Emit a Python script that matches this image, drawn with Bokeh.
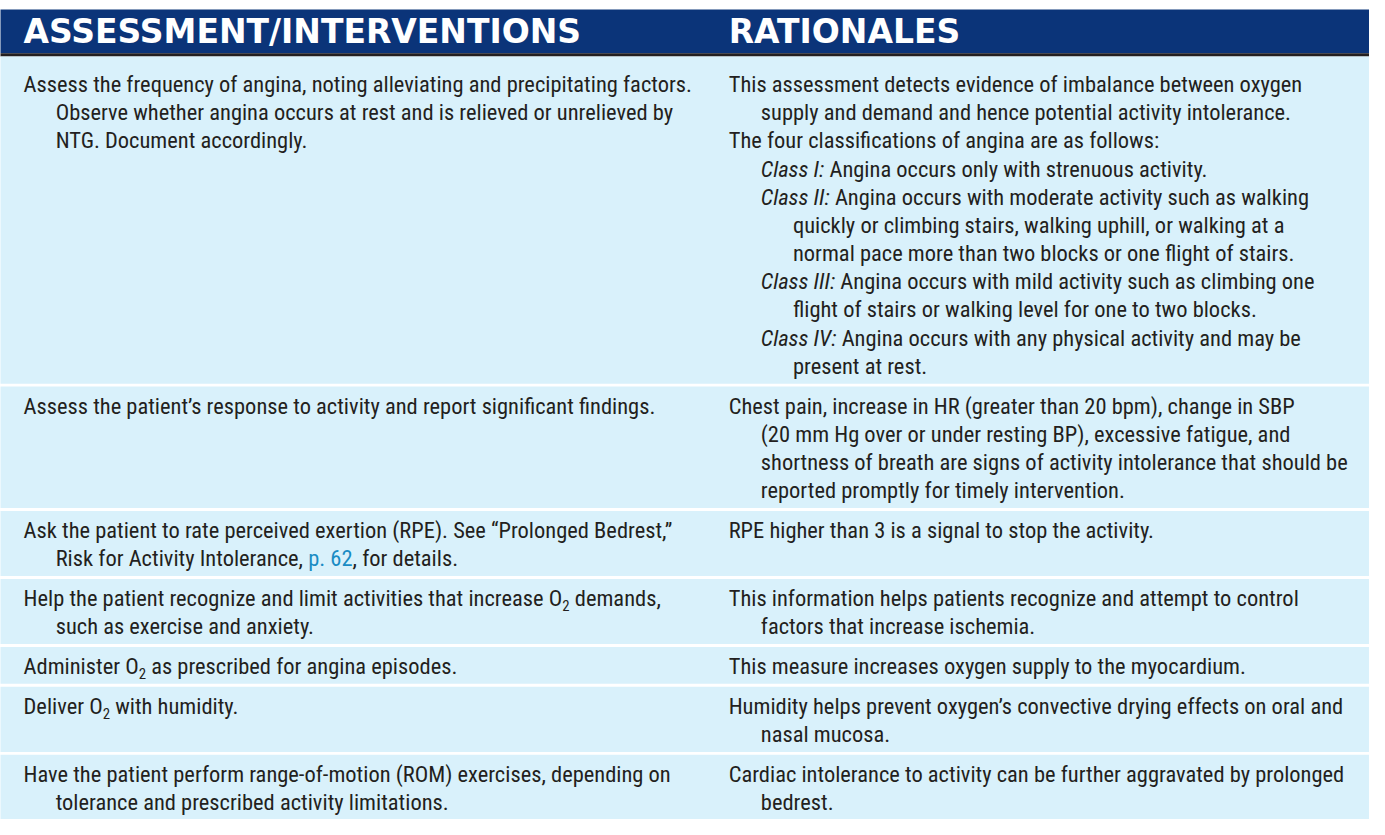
import glob
import re

from bokeh.plotting import figure
from bokeh.models import Range1d, ColumnDataSource
from bokeh.embed import file_html
from bokeh.resources import INLINE
from bokeh.core.properties import value

# ---------------------------------------------------------------- data
# markup: leading ">" = one indent level, *...* = italic, [...] = link, _2 = subscript 2
headers = ["ASSESSMENT/INTERVENTIONS", "RATIONALES"]

assessment_rows = [
    ["Assess the frequency of angina, noting alleviating and precipitating factors.",
     ">Observe whether angina occurs at rest and is relieved or unrelieved by",
     ">NTG. Document accordingly."],
    ["Assess the patient\u2019s response to activity and report significant findings."],
    ["Ask the patient to rate perceived exertion (RPE). See \u201cProlonged Bedrest,\u201d",
     ">Risk for Activity Intolerance, [p. 62], for details."],
    ["Help the patient recognize and limit activities that increase O_2 demands,",
     ">such as exercise and anxiety."],
    ["Administer O_2 as prescribed for angina episodes."],
    ["Deliver O_2 with humidity."],
    ["Have the patient perform range-of-motion (ROM) exercises, depending on",
     ">tolerance and prescribed activity limitations."],
]

rationale_rows = [
    ["This assessment detects evidence of imbalance between oxygen",
     ">supply and demand and hence potential activity intolerance.",
     "The four classifications of angina are as follows:",
     ">*Class I:* Angina occurs only with strenuous activity.",
     ">*Class II:* Angina occurs with moderate activity such as walking",
     ">>quickly or climbing stairs, walking uphill, or walking at a",
     ">>normal pace more than two blocks or one flight of stairs.",
     ">*Class III:* Angina occurs with mild activity such as climbing one",
     ">>flight of stairs or walking level for one to two blocks.",
     ">*Class IV:* Angina occurs with any physical activity and may be",
     ">>present at rest."],
    ["Chest pain, increase in HR (greater than 20 bpm), change in SBP",
     ">(20 mm Hg over or under resting BP), excessive fatigue, and",
     ">shortness of breath are signs of activity intolerance that should be",
     ">reported promptly for timely intervention."],
    ["RPE higher than 3 is a signal to stop the activity."],
    ["This information helps patients recognize and attempt to control",
     ">factors that increase ischemia."],
    ["This measure increases oxygen supply to the myocardium."],
    ["Humidity helps prevent oxygen\u2019s convective drying effects on oral and",
     ">nasal mucosa."],
    ["Cardiac intolerance to activity can be further aggravated by prolonged",
     ">bedrest."],
]

# ---------------------------------------------------------------- style
NAVY = "#0b3479"
RULE = "#231f20"
ROW_BG = "#d9f1fb"
TEXT = "#231f20"
LINK = "#1a8cc4"

W, H = 1385, 835           # reference pixel space
CW, CH = W - 16, H - 16    # canvas size
Y_SPAN = H + 8             # a little extra room so the last line is not clipped
SX, SY = CW / W, CH / Y_SPAN

HEADER_TOP, HEADER_BOTTOM, RULE_BOTTOM = 9.3, 54.3, 57.7
HEADER_BASE = 43.2
COL_X = [23.3, 736.7]
INDENT = 32.5
LINE_H = 29.0
FIRST_PAD = 27.0
ROW_BASE = 38.0
FIRST_EXTRA = 8.7
GAP = 3.0
REF_BODY_WIDTH = 580.3      # measured width of first rationale line
REF_HEAD_WIDTH = 564.0      # measured width of first header
BASELINE_FIX = 0.32         # em: renderer draws 'alphabetic' text this much lower


def find(patterns):
    for name in patterns:
        for root in ("/usr/share/fonts", "/usr/local/share/fonts"):
            r = sorted(glob.glob(root + "/**/" + name, recursive=True))
            if r:
                return r[0]
    return None


try:
    from PIL import ImageFont
except Exception:
    ImageFont = None


class Meter:
    def __init__(self, path, fallback):
        self.f = None
        self.fb = fallback
        if path and ImageFont is not None:
            try:
                self.f = ImageFont.truetype(path, 200)
            except Exception:
                self.f = None

    def width(self, s, size):
        if self.f is not None:
            return self.f.getlength(s) * size / 200.0
        return len(s) * self.fb * size


body_choice = None
for fam, reg, ita in [
        ("Liberation Sans Narrow", ["LiberationSansNarrow-Regular.ttf"], ["LiberationSansNarrow-Italic.ttf"]),
        ("Roboto Condensed", ["RobotoCondensed-Regular.ttf", "RobotoCondensed-Regular*.ttf", "RobotoCondensed[[]wght[]].ttf"],
         ["RobotoCondensed-Italic.ttf", "RobotoCondensed-Italic*.ttf"]),
        ("DejaVu Sans Condensed", ["DejaVuSansCondensed.ttf"], ["DejaVuSansCondensed-Oblique.ttf"]),
        ("Liberation Sans", ["LiberationSans-Regular.ttf"], ["LiberationSans-Italic.ttf"])]:
    rp = find(reg)
    if rp:
        body_choice = (fam, rp, find(ita))
        break
if body_choice is None:
    body_choice = ("Liberation Sans Narrow", None, None)

BODY_FONT = body_choice[0]
m_reg = Meter(body_choice[1], 0.40)
m_ita = Meter(body_choice[2] or body_choice[1], 0.40)

head_path = find(["DejaVuSans-Bold.ttf"])
HEAD_FONT = "DejaVu Sans" if head_path else "Liberation Sans"
m_head = Meter(head_path or find(["LiberationSans-Bold.ttf"]), 0.70)

TOKEN = re.compile(r"(\*[^*]+\*|\[[^\]]+\]|_2)")


def parse(line):
    level = len(line) - len(line.lstrip(">"))
    out = []
    for part in TOKEN.split(line[level:]):
        if not part:
            continue
        if part.startswith("*"):
            out.append((part[1:-1], "italic"))
        elif part.startswith("["):
            out.append((part[1:-1], "link"))
        elif part == "_2":
            out.append(("2", "sub"))
        else:
            out.append((part, "normal"))
    return level, out


def plain(line):
    return "".join(t for t, _ in parse(line)[1])


body_size = REF_BODY_WIDTH * SX / m_reg.width(plain(rationale_rows[0][0]), 1.0)
sub_size = body_size * 0.66
head_size = REF_HEAD_WIDTH * SX / m_head.width(headers[0], 1.0)

# ---------------------------------------------------------------- layout
runs = {k: {"x": [], "y": [], "text": []} for k in ("normal", "italic", "link", "sub")}
quads = {"left": [], "right": [], "top": [], "bottom": [], "color": []}


def add_quad(l, r, t, b, c):
    quads["left"].append(l); quads["right"].append(r)
    quads["top"].append(t); quads["bottom"].append(b); quads["color"].append(c)


add_quad(-5, W + 5, HEADER_TOP, HEADER_BOTTOM, NAVY)
add_quad(-5, W + 5, HEADER_BOTTOM, RULE_BOTTOM, RULE)

y_top = RULE_BOTTOM
n_rows = len(assessment_rows)
for r in range(n_rows):
    left, right = assessment_rows[r], rationale_rows[r]
    n = max(len(left), len(right))
    extra = FIRST_EXTRA if r == 0 else 0.0
    bottom = y_top + extra + ROW_BASE + LINE_H * (n - 1)
    if r == n_rows - 1:
        bottom = Y_SPAN + 5
    add_quad(-5, W + 5, y_top, bottom, ROW_BG)
    for cx, lines in zip(COL_X, (left, right)):
        for i, line in enumerate(lines):
            level, rs = parse(line)
            x = cx + level * INDENT
            yb = y_top + extra + FIRST_PAD + i * LINE_H
            for text, style in rs:
                size = sub_size if style == "sub" else body_size
                meter = m_ita if style == "italic" else m_reg
                stripped = text.lstrip(" ")
                lead = text[:len(text) - len(stripped)]
                x += m_reg.width(lead, size) / SX
                shown = stripped.rstrip(" ")
                if shown:
                    yy = yb + (body_size * 0.22 if style == "sub" else 0.0)
                    runs[style]["x"].append(x)
                    runs[style]["y"].append(yy - BASELINE_FIX * size / SY)
                    runs[style]["text"].append(shown)
                x += meter.width(stripped, size) / SX
    y_top = bottom + GAP

# ---------------------------------------------------------------- figure
p = figure(width=CW, height=CH,
           x_range=Range1d(0, W), y_range=Range1d(Y_SPAN, 0),
           x_axis_location=None, y_axis_location=None,
           output_backend="svg", toolbar_location=None,
           min_border=0, background_fill_color="white", border_fill_color="white")
p.outline_line_color = None
p.grid.visible = False

p.quad(left="left", right="right", top="top", bottom="bottom", color="color",
       line_color=None, source=ColumnDataSource(quads))

p.text(x=COL_X, y=[HEADER_BASE - BASELINE_FIX * head_size / SY] * 2, text=headers, text_color="white",
       text_font=value(HEAD_FONT), text_font_style="bold",
       text_font_size=f"{head_size:.2f}px", text_baseline="alphabetic", text_align="left")

styles = {
    "normal": dict(text_color=TEXT, text_font_style="normal", size=body_size),
    "italic": dict(text_color=TEXT, text_font_style="italic", size=body_size),
    "link": dict(text_color=LINK, text_font_style="normal", size=body_size),
    "sub": dict(text_color=TEXT, text_font_style="normal", size=sub_size),
}
for k, st in styles.items():
    p.text(x="x", y="y", text="text", source=ColumnDataSource(runs[k]),
           text_color=st["text_color"], text_font=value(BODY_FONT),
           text_font_style=st["text_font_style"], text_font_size=f"{st['size']:.2f}px",
           text_baseline="alphabetic", text_align="left")

open("out.html", "w").write(file_html(p, INLINE))
